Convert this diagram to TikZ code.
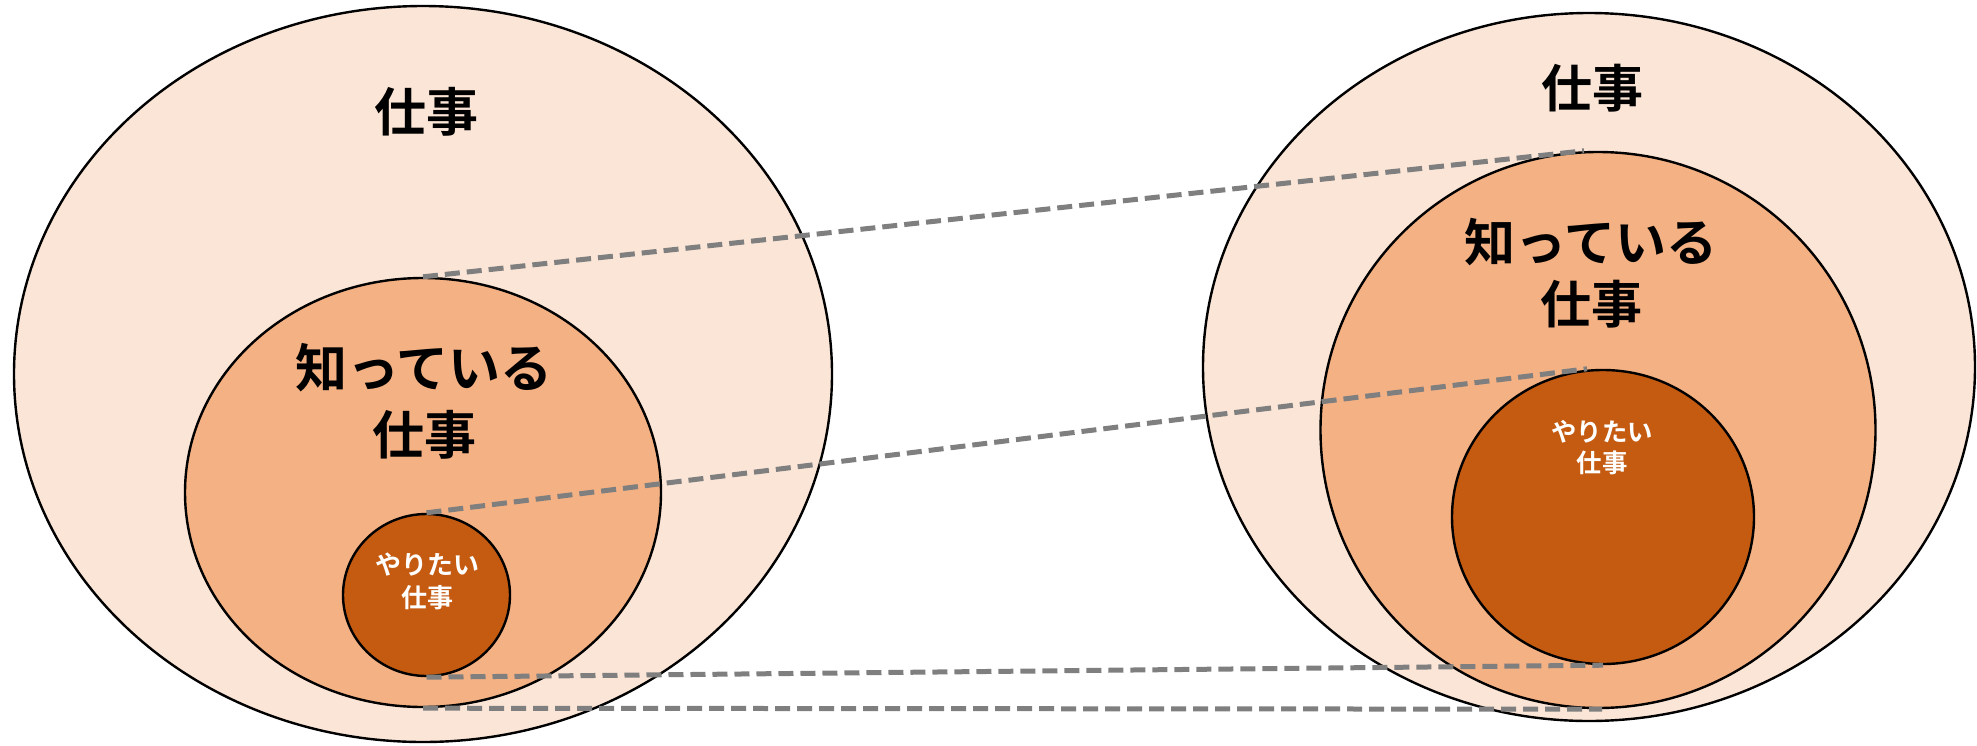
\documentclass[tikz,border=0pt]{standalone}
\usepackage{fontspec}
\newfontfamily\jp[BoldFont={Noto Sans CJK JP Bold}]{Noto Sans CJK JP}
\usetikzlibrary{shapes.geometric}
\definecolor{outerfill}{HTML}{FBE5D6}
\definecolor{midfill}{HTML}{F4B183}
\definecolor{innerfill}{HTML}{C55A11}
\definecolor{dashgray}{HTML}{7F7F7F}
\tikzset{
  ring/.style={ellipse, draw=black, line width=1.2pt, inner sep=0pt},
  outerring/.style={ring, fill=outerfill},
  midring/.style={ring, fill=midfill},
  innerring/.style={ring, fill=innerfill},
  guide/.style={draw=dashgray, line width=2.5pt, dash pattern=on 7.5pt off 3.5pt},
  bigtext/.style={font=\jp\bfseries\fontsize{26}{33.5}\selectfont, align=center, text=black, inner sep=0pt},
  smalltext/.style={font=\jp\bfseries\fontsize{13}{16.5}\selectfont, align=center, text=white, inner sep=0pt},
}
\begin{document}
\begin{tikzpicture}[x=0.5pt,y=-0.5pt]
\useasboundingbox (0,0) rectangle (1977,745);
% left group
\node[outerring, minimum width=409pt, minimum height=368pt] (lo) at (423,374) {};
\node[midring, minimum width=238pt, minimum height=214.5pt] (lm) at (423,492.5) {};
\node[innerring, minimum width=83.5pt, minimum height=81pt] (ls) at (426.5,595) {};
% right group
\node[outerring, minimum width=386pt, minimum height=354pt] (ro) at (1589,367) {};
\node[midring, minimum width=277.5pt, minimum height=278pt] (rm) at (1598,430) {};
\node[innerring, minimum width=151pt, minimum height=147pt] (rs) at (1603,517) {};
% dashed guides
\draw[guide] (lm.north) -- ([xshift=-7pt]rm.north);
\draw[guide] (ls.north) -- ([xshift=-8pt]rs.north);
\draw[guide] (ls.south) -- (rs.south);
\draw[guide] (lm.south) -- ([xshift=2pt]rm.south);
% texts
\node[bigtext] (lot) at (426,112) {仕事};
\node[bigtext] (lmt) at (424,401) {知っている\\仕事};
\node[smalltext] (lst) at (427,581.5) {やりたい\\仕事};
\node[bigtext, font=\jp\bfseries\fontsize{25.5}{31}\selectfont] (rot) at (1592,88) {仕事};
\node[bigtext, font=\jp\bfseries\fontsize{25.5}{31}\selectfont] (rmt) at (1591,273) {知っている\\仕事};
\node[smalltext, font=\jp\bfseries\fontsize{12.7}{15.5}\selectfont] (rst) at (1602,447.5) {やりたい\\仕事};
\end{tikzpicture}
\end{document}
